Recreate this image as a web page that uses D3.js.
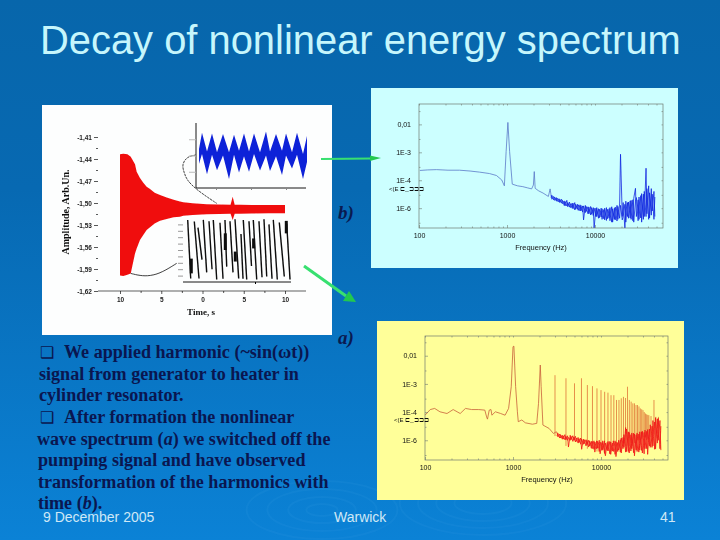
<!DOCTYPE html>
<html>
<head>
<meta charset="utf-8">
<script src="https://cdn.jsdelivr.net/npm/d3@7/dist/d3.min.js"></script>
<style>
  html, body { margin: 0; padding: 0; background: #0a70bc; }
  svg { display: block; }
  text { font-family: "Liberation Sans", Arial, sans-serif; }
  .serif { font-family: "Liberation Serif", "Times New Roman", serif; }
</style>
</head>
<body>
<svg id="slide" width="720" height="540"></svg>
<script>
const titleText = "Decay of nonlinear energy spectrum";
const footerTexts = ["9 December 2005", "Warwick", "41"];

// each line is a list of [text, italic] runs
const bodyLines = [
  [["We applied harmonic (~sin(ωt))", false]],
  [["signal from generator to heater in", false]],
  [["cylinder resonator.", false]],
  [["After formation the nonlinear", false]],
  [["wave spectrum (", false], ["a", true], [") we switched off the", false]],
  [["pumping signal and have observed", false]],
  [["transformation of the harmonics with", false]],
  [["time (", false], ["b", true], [").", false]]
];
const bulletLines = [0, 3];

// decay record (left panel)
const timeTicks = [-10, -5, 0, 5, 10];
const timeTickLabels = ["10", "5", "0", "5", "10"];
const timeMinorTicks = [-7.5, -2.5, 2.5, 7.5];
const ampTicks = [-1.41, -1.44, -1.47, -1.50, -1.53, -1.56, -1.59, -1.62];
const ampMinorTicks = [-1.425, -1.455, -1.485, -1.515, -1.545, -1.575, -1.605];

const envTime = [-10, -9.6, -9.1, -8.7, -8.18, -7.98, -7.58, -7.2, -6.77, -6.36, -5.8, -5.15, -4.34, -3.5, -2.73, -2.33, -1.2, 0.5, 2, 3.4, 3.66, 3.9, 4.55, 6, 8, 10];
const envUpper = [-1.4336, -1.433, -1.4336, -1.437, -1.447, -1.4573, -1.466, -1.472, -1.4778, -1.481, -1.486, -1.489, -1.4925, -1.4955, -1.498, -1.499, -1.5005, -1.5018, -1.5022, -1.5025, -1.4914, -1.5025, -1.5024, -1.5026, -1.5027, -1.5028];
const envLower = [-1.599, -1.5995, -1.598, -1.596, -1.5687, -1.562, -1.5505, -1.544, -1.5369, -1.533, -1.528, -1.5242, -1.5218, -1.5195, -1.5187, -1.5175, -1.5165, -1.5155, -1.515, -1.5148, -1.5232, -1.5146, -1.5145, -1.5142, -1.5141, -1.514];

const topLinkTime = [-0.82, -1.91, -2.52, -2.2, -1.91, -0.7, 1.72];
const topLinkAmp = [-1.4346, -1.4368, -1.4482, -1.459, -1.4687, -1.4823, -1.5005];
const lowLinkTime = [-8.7, -7.58, -6.36, -4.95, -3.13];
const lowLinkAmp = [-1.596, -1.5992, -1.5996, -1.5951, -1.5823];

// blue zoomed trace, arbitrary inset units
const blueTime = [3, 6, 11, 16, 21, 27, 33, 38, 43, 48, 53, 58, 64, 70, 74, 80, 86, 90, 96, 101, 107, 111];
const blueUpper = [0.2, 0.7, 0.12, 0.68, 0.1, 0.66, 0.1, 0.64, 0.15, 0.68, 0.12, 0.68, 0.1, 0.74, 0.12, 0.66, 0.15, 0.68, 0.1, 0.7, 0.05, 0.6];
const blueLower = [-0.25, 0.05, -0.58, 0.02, -0.45, 0, -0.72, 0.02, -0.52, -0.02, -0.5, 0.05, -0.46, 0, -0.48, -0.02, -0.6, 0, -0.4, 0.02, -0.72, -0.2];

// black zoomed trace: separate leaning strokes, then short heavy bursts
const strokeT1 = [4.7, 11.3, 15, 20.3, 26, 30.3, 37, 42, 47, 52, 58, 60.3, 66, 70.3, 76, 81, 86, 90.3, 96.3, 103.7];
const strokeV1 = [0.94, 0.89, 0.7, 0.94, 0.9, 0.94, 0.85, 0.94, 0.9, 0.96, 0.5, 0.94, 0.9, 0.94, 0.9, 0.96, 0.8, 0.94, 0.86, 0.83];
const strokeT2 = [7.7, 16, 19, 23.7, 29, 33.7, 40, 43.7, 50, 55.7, 60, 63.7, 68.5, 73.7, 79, 83.7, 89, 94.3, 101.3, 107];
const strokeV2 = [-0.89, -0.89, -0.3, -0.7, -0.6, -0.92, -0.9, -0.52, -0.7, -0.89, -0.9, -0.92, -0.5, -0.92, -0.85, -0.83, -0.9, -0.92, -0.83, -0.92];
const burstTime = [8.3, 42.3, 52.3, 70.6, 103.3];
const burstHigh = [-0.27, 0.52, -0.05, 0.36, 0.91];
const burstLow = [-0.73, 0, -0.36, 0.05, 0.52];

// spectra, both axes stored as powers of ten
const freqTicks = [100, 1000, 10000];
const freqMinorTicks = [200, 300, 400, 500, 600, 700, 800, 900, 2000, 3000, 4000, 5000, 6000, 7000, 8000, 9000, 20000, 30000, 40000, 50000];
const specTicks = [1e-2, 1e-3, 1e-4, 1e-5];
const specTickLabels = ["0,01", "1E-3", "1E-4", "1E-6"];
const specMinorTicks = [3e-2, 3e-3, 3e-4, 3e-5, 3e-6];

const lowFreqB = [2.01, 2.1, 2.2, 2.33, 2.46, 2.58, 2.69, 2.8, 2.88, 2.94, 2.97, 2.99, 3.01, 3.03, 3.06, 3.12, 3.18, 3.23, 3.28, 3.3, 3.31, 3.32, 3.36, 3.41, 3.47, 3.49, 3.50];
const lowAmpB = [-3.65, -3.63, -3.62, -3.64, -3.64, -3.67, -3.71, -3.76, -3.83, -3.99, -4.2, -2.98, -1.93, -2.98, -4.14, -4.2, -4.23, -4.27, -4.31, -4.17, -3.69, -4.29, -4.38, -4.46, -4.58, -4.31, -4.52];

const lowFreqA = [2.0, 2.06, 2.11, 2.17, 2.25, 2.32, 2.4, 2.46, 2.53, 2.61, 2.68, 2.7, 2.71, 2.73, 2.75, 2.76, 2.8, 2.86, 2.91, 2.95, 2.98, 3.0, 3.01, 3.03, 3.05, 3.06, 3.1, 3.14, 3.22, 3.27, 3.29, 3.31, 3.32, 3.34, 3.41, 3.46, 3.49, 3.50];
const lowAmpA = [-4.11, -3.91, -3.87, -3.99, -4.05, -3.91, -4.05, -3.87, -3.91, -3.91, -3.93, -4.17, -4.25, -3.93, -3.91, -4.11, -3.99, -4.05, -4.11, -3.87, -3.1, -1.68, -1.66, -3.1, -3.99, -4.34, -4.28, -4.38, -4.43, -4.4, -3.69, -2.33, -3.1, -4.46, -4.58, -4.76, -4.7, -4.72];

const noiseFreq = [
  3.50, 3.51, 3.53, 3.54, 3.56, 3.57, 3.59, 3.60, 3.62, 3.63,
  3.65, 3.66, 3.68, 3.69, 3.71, 3.72, 3.74, 3.75, 3.77, 3.78,
  3.80, 3.81, 3.83, 3.84, 3.86, 3.87, 3.89, 3.90, 3.92, 3.93,
  3.95, 3.96, 3.98, 3.99, 4.01, 4.02, 4.04, 4.05, 4.07, 4.08,
  4.10, 4.11, 4.13, 4.14, 4.16, 4.17, 4.19, 4.20, 4.22, 4.23,
  4.25, 4.26, 4.28, 4.29, 4.31, 4.32, 4.34, 4.35, 4.37, 4.38,
  4.40, 4.41, 4.43, 4.44, 4.46, 4.47, 4.49, 4.50, 4.52, 4.53,
  4.55, 4.56, 4.58, 4.59, 4.61, 4.62, 4.64, 4.65, 4.67, 4.68
];
const noiseAmpB = [
  -4.52, -4.68, -4.58, -4.72, -4.62, -4.76, -4.66, -4.8, -4.68, -4.84,
  -4.74, -4.92, -4.72, -4.95, -4.78, -4.98, -4.82, -5.02, -4.8, -5.04,
  -4.86, -5.08, -4.88, -5.1, -4.92, -5.42, -4.9, -5.12, -4.95, -5.2,
  -4.94, -5.22, -4.98, -5.71, -5.0, -5.3, -5.02, -5.34, -5.0, -5.4,
  -5.05, -5.42, -4.98, -5.38, -5.02, -5.45, -4.95, -5.5, -5.0, -5.42,
  -4.9, -5.4, -4.85, -3.07, -5.3, -4.8, -5.75, -4.75, -5.3, -4.78,
  -5.35, -4.72, -5.45, -4.65, -4.29, -5.3, -4.7, -5.4, -4.55, -5.5,
  -4.5, -5.3, -3.57, -5.2, -4.2, -5.35, -4.3, -5.1, -4.4, -5.3
];
const noiseAmpB2 = [
  -4.62, -4.54, -4.7, -4.6, -4.74, -4.64, -4.78, -4.68, -4.82, -4.72,
  -4.9, -4.76, -4.92, -4.8, -4.96, -4.84, -5.0, -4.82, -5.06, -4.86,
  -5.04, -4.88, -5.1, -4.9, -5.14, -4.92, -5.16, -4.94, -5.2, -4.96,
  -5.24, -4.98, -5.26, -5.0, -5.3, -4.98, -5.36, -5.04, -5.32, -5.02,
  -5.38, -5.0, -5.44, -5.04, -5.36, -4.98, -5.5, -5.02, -5.4, -4.96,
  -5.46, -4.94, -5.36, -4.9, -5.42, -5.3, -4.86, -5.5, -4.8, -5.36,
  -4.74, -5.4, -4.7, -5.5, -4.75, -4.62, -5.45, -4.6, -5.35, -4.48,
  -5.4, -4.4, -5.3, -4.3, -5.4, -4.45, -5.25, -4.5, -5.4, -4.6
];
const noiseAmpA = [
  -4.72, -4.88, -4.78, -4.92, -4.82, -4.96, -4.8, -4.98, -4.84, -5.24,
  -4.82, -4.98, -4.84, -5.0, -4.86, -5.04, -4.9, -5.08, -4.92, -5.32,
  -4.96, -5.12, -4.98, -5.16, -5.0, -5.2, -5.04, -5.3, -5.02, -5.42,
  -5.02, -5.28, -5.0, -5.48, -5.08, -5.34, -5.02, -5.55, -5.08, -5.38,
  -5.04, -5.5, -5.1, -5.4, -5.02, -5.58, -5.08, -5.35, -4.98, -5.45,
  -4.9, -5.25, -4.55, -5.4, -4.7, -5.45, -4.8, -5.3, -4.75, -5.55,
  -4.8, -5.4, -4.78, -5.35, -4.7, -5.45, -4.72, -5.3, -4.68, -5.5,
  -4.6, -5.25, -4.5, -5.2, -4.35, -5.3, -4.25, -5.0, -4.3, -5.35
];
const noiseAmpA2 = [
  -4.85, -4.75, -4.92, -4.8, -4.96, -4.84, -4.98, -4.86, -5.0, -4.9,
  -5.0, -4.86, -5.04, -4.88, -5.06, -4.92, -5.1, -4.94, -5.14, -4.96,
  -5.14, -4.98, -5.2, -5.0, -5.24, -5.02, -5.28, -5.04, -5.32, -5.06,
  -5.3, -5.04, -5.4, -5.06, -5.36, -5.02, -5.46, -5.1, -5.36, -5.04,
  -5.48, -5.06, -5.38, -5.02, -5.5, -5.06, -5.4, -5.0, -5.42, -4.92,
  -5.3, -4.8, -5.42, -4.6, -5.4, -4.72, -5.38, -4.74, -5.44, -4.78,
  -5.35, -4.74, -5.42, -4.7, -5.36, -4.68, -5.48, -4.64, -5.3, -4.62,
  -5.2, -4.45, -5.25, -4.3, -5.32, -4.2, -5.1, -4.22, -5.3, -4.5
];

const harmonicFreq = [3000, 4000, 5000, 6000, 7000, 8000, 9000, 10000, 11000, 12000, 13000, 14000, 15000, 16000, 17000, 18000, 19000, 20000, 21000, 22000, 23000, 24000, 25000, 26000, 27000, 28000, 29000, 30000, 31000, 32000, 33000, 34000, 35000, 37000, 40000, 42000, 45000];
const harmonicPeak = [-2.69, -2.8, -2.98, -2.8, -3.04, -3.08, -3.16, -3.22, -3.28, -3.31, -3.4, -3.4, -3.57, -3.57, -3.51, -3.46, -3.5, -3.1, -3.57, -3.63, -3.69, -3.69, -3.75, -3.75, -3.8, -3.87, -3.9, -3.93, -4.0, -4.05, -4.08, -4.1, -4.11, -4.14, -3.57, -4.17, -4.17];
const harmonicFloor = [-4.85, -5.2, -5.0, -5.05, -5.3, -5.2, -5.4, -5.3, -5.5, -5.3, -5.4, -5.2, -5.4, -5.2, -5.3, -5.1, -5.2, -5.0, -5.2, -5.1, -5.2, -5.1, -5.1, -5.0, -5.0, -5.0, -4.95, -4.9, -4.9, -4.9, -5.0, -4.95, -5.0, -4.9, -4.8, -4.9, -4.9];

const svg = d3.select("#slide");
const defs = svg.append("defs");

const bg = defs.append("linearGradient").attr("id", "bg").attr("x1", 0).attr("y1", 0).attr("x2", 0).attr("y2", 1);
bg.append("stop").attr("offset", "0%").attr("stop-color", "#0766ab");
bg.append("stop").attr("offset", "35%").attr("stop-color", "#0769b2");
bg.append("stop").attr("offset", "100%").attr("stop-color", "#0b82d6");

// the reference is a soft jpeg
defs.append("filter").attr("id", "soft").append("feGaussianBlur").attr("stdDeviation", 0.35);

svg.append("rect").attr("width", 720).attr("height", 540).attr("fill", "url(#bg)");

// ripples in the slide background
const ripples = svg.append("g").attr("fill", "none").attr("stroke", "#5fb4ec").attr("stroke-opacity", 0.07);
[[483, 503, [22, 36, 50, 64]], [322, 510, [12, 26, 42, 58]]].forEach(([cx, cy, radii]) => {
  radii.forEach((r) => {
    ripples.append("ellipse").attr("cx", cx).attr("cy", cy).attr("rx", r * 1.3).attr("ry", r * 0.5).attr("stroke-width", 2);
  });
});

svg.append("text")
  .attr("x", 40).attr("y", 54)
  .attr("font-size", 39.9)
  .attr("fill", "#c6f6fc")
  .text(titleText);

// left panel
svg.append("rect").attr("x", 42).attr("y", 105).attr("width", 290).attr("height", 230).attr("fill", "#fdfefe");

const decay = svg.append("g").attr("filter", "url(#soft)");
const x = d3.scaleLinear().domain([-10, 10]).range([120, 285]);
const y = d3.scaleLinear().domain([-1.41, -1.62]).range([137, 291]);

decay.append("path")
  .attr("d", d3.area().x((i) => x(envTime[i])).y0((i) => y(envLower[i])).y1((i) => y(envUpper[i]))(d3.range(envTime.length)))
  .attr("fill", "#f01010");

const linkLine = d3.line().x((d) => x(d[0])).y((d) => y(d[1])).curve(d3.curveBasis);
decay.append("path").attr("d", linkLine(d3.zip(topLinkTime, topLinkAmp)))
  .attr("fill", "none").attr("stroke", "#111").attr("stroke-width", 0.8).attr("stroke-dasharray", "2.5 0.8");
decay.append("path").attr("d", linkLine(d3.zip(lowLinkTime, lowLinkAmp)))
  .attr("fill", "none").attr("stroke", "#111").attr("stroke-width", 0.8);

const xAxisG = decay.append("g").attr("transform", "translate(0,291)")
  .call(d3.axisBottom(x).tickValues(timeTicks).tickSize(3).tickPadding(3).tickFormat((d, i) => timeTickLabels[i]));
xAxisG.select(".domain").attr("d", "M98,0H306");
decay.append("g").attr("transform", "translate(0,291)")
  .call(d3.axisBottom(x).tickValues(timeMinorTicks).tickSize(2).tickFormat(""))
  .select(".domain").remove();

const yAxisG = decay.append("g").attr("transform", "translate(98,0)")
  .call(d3.axisLeft(y).tickValues(ampTicks).tickSize(4).tickPadding(2).tickFormat((d) => "-" + d3.format(".2f")(-d).replace(".", ",")));
yAxisG.select(".domain").remove();
decay.append("g").attr("transform", "translate(98,0)")
  .call(d3.axisLeft(y).tickValues(ampMinorTicks).tickSize(2).tickFormat(""))
  .select(".domain").remove();
decay.selectAll("g.tick text").attr("font-size", 6.5).attr("font-family", "Liberation Sans").attr("font-weight", "bold").attr("fill", "#222");
decay.selectAll("g path.domain, g.tick line").attr("stroke", "#111").attr("stroke-width", 0.7);

decay.append("text").attr("class", "serif")
  .attr("transform", "translate(69,212) rotate(-90)")
  .attr("text-anchor", "middle").attr("font-size", 10).attr("font-weight", "bold").attr("fill", "#111")
  .text("Amplitude, Arb.Un.");
decay.append("text").attr("class", "serif")
  .attr("x", 201).attr("y", 315)
  .attr("text-anchor", "middle").attr("font-size", 9).attr("font-weight", "bold").attr("fill", "#111")
  .text("Time, s");

// blue inset
const bx = d3.scaleLinear().domain([0, 110]).range([196, 306]);
const by = d3.scaleLinear().domain([-1, 1]).range([188, 123]);
const blueG = svg.append("g").attr("filter", "url(#soft)");
blueG.append("path")
  .attr("d", d3.area().x((i) => bx(blueTime[i])).y0((i) => by(blueLower[i])).y1((i) => by(blueUpper[i]))(d3.range(blueTime.length)))
  .attr("fill", "#1020d8");
blueG.append("g").attr("transform", "translate(196,0)")
  .call(d3.axisLeft(by).tickValues([-0.5, 0, 0.5]).tickSize(7).tickFormat(""))
  .call((g) => g.selectAll(".tick line").attr("stroke", "#bbb"))
  .select(".domain").attr("d", "M0,123V188").attr("stroke", "#111");
blueG.append("g").attr("transform", "translate(0,188)")
  .call(d3.axisBottom(bx).tickValues([20, 55, 90]).tickSize(2).tickFormat(""))
  .call((g) => g.selectAll(".tick line").attr("stroke", "#888"))
  .select(".domain").attr("d", "M196,0H306").attr("stroke", "#111");

// black inset
const kx = d3.scaleLinear().domain([0, 108]).range([183, 291]);
const ky = d3.scaleLinear().domain([-1, 1]).range([282, 218]);
const blackG = svg.append("g").attr("filter", "url(#soft)");
blackG.selectAll("line.stroke").data(strokeT1).join("line")
  .attr("class", "stroke")
  .attr("x1", (d) => kx(d)).attr("y1", (d, i) => ky(strokeV1[i]))
  .attr("x2", (d, i) => kx(strokeT2[i])).attr("y2", (d, i) => ky(strokeV2[i]))
  .attr("stroke", "#0a0a0a").attr("stroke-width", 1.4);
blackG.selectAll("line.burst").data(burstTime).join("line")
  .attr("class", "burst")
  .attr("x1", (d) => kx(d)).attr("x2", (d) => kx(d))
  .attr("y1", (d, i) => ky(burstHigh[i])).attr("y2", (d, i) => ky(burstLow[i]))
  .attr("stroke", "#0a0a0a").attr("stroke-width", 3);
blackG.append("g").attr("transform", "translate(183,0)")
  .call(d3.axisLeft(ky).tickValues([-0.8, -0.6, -0.4, -0.2, 0, 0.2, 0.4, 0.6, 0.8]).tickSize(5).tickFormat(""))
  .call((g) => g.selectAll(".tick line").attr("stroke", "#999"))
  .select(".domain").remove();
blackG.append("g").attr("transform", "translate(0,282)")
  .call(d3.axisBottom(kx).tickValues([72]).tickSize(2).tickFormat(""))
  .select(".domain").attr("d", "M183,0H291").attr("stroke", "#111");

// spectrum panels
function drawSpectrum(cfg) {
  svg.append("rect")
    .attr("x", cfg.panel[0]).attr("y", cfg.panel[1])
    .attr("width", cfg.panel[2]).attr("height", cfg.panel[3])
    .attr("fill", cfg.fill);

  const g = svg.append("g").attr("filter", "url(#soft)");
  const { left, right, top, bottom } = cfg;
  const sx = d3.scaleLog().domain([100, 100 * Math.pow(10, (right - left) / 88)]).range([left, right]);
  const sy = d3.scaleLog().domain([cfg.yAtTop, cfg.yAtBottom]).range([top, bottom]);
  const clipId = "clip" + cfg.id;
  defs.append("clipPath").attr("id", clipId).append("rect")
    .attr("x", left).attr("y", top).attr("width", right - left).attr("height", bottom - top);

  const line = d3.line().x((d) => sx(Math.pow(10, d[0]))).y((d) => sy(Math.pow(10, d[1])));
  const plot = g.append("g").attr("clip-path", `url(#${clipId})`);

  if (cfg.spikes) {
    plot.selectAll("line.spike").data(cfg.spikes.freq).join("line")
      .attr("class", "spike")
      .attr("x1", (d) => sx(d)).attr("x2", (d) => sx(d))
      .attr("y1", (d, i) => sy(Math.pow(10, cfg.spikes.peak[i])))
      .attr("y2", (d, i) => sy(Math.pow(10, cfg.spikes.floor[i])))
      .attr("stroke", "#d8501c").attr("stroke-opacity", 0.8).attr("stroke-width", 0.8);
  }
  plot.append("path").attr("d", line(d3.zip(cfg.lowFreq, cfg.lowAmp)))
    .attr("fill", "none").attr("stroke", cfg.lowColor).attr("stroke-width", 0.8);
  cfg.noise.forEach((series) => {
    plot.append("path").attr("d", line(d3.zip(noiseFreq, series)))
      .attr("fill", "none").attr("stroke", cfg.color).attr("stroke-width", 0.8);
  });

  const axisColor = "#6f7a70";
  g.append("rect").attr("x", left).attr("y", top).attr("width", right - left).attr("height", bottom - top)
    .attr("fill", "none").attr("stroke", axisColor).attr("stroke-width", 0.7);

  const bottomAxis = g.append("g").attr("transform", `translate(0,${bottom})`)
    .call(d3.axisBottom(sx).tickValues(freqTicks).tickSize(-3).tickPadding(5).tickFormat((d) => d));
  const leftAxis = g.append("g").attr("transform", `translate(${left},0)`)
    .call(d3.axisLeft(sy).tickValues(specTicks).tickSize(-3).tickPadding(8).tickFormat((d, i) => specTickLabels[i]));
  const minorB = g.append("g").attr("transform", `translate(0,${bottom})`)
    .call(d3.axisBottom(sx).tickValues(freqMinorTicks).tickSize(-1.5).tickFormat(""));
  const minorT = g.append("g").attr("transform", `translate(0,${top})`)
    .call(d3.axisTop(sx).tickValues(freqMinorTicks.concat(freqTicks)).tickSize(-1.5).tickFormat(""));
  const minorL = g.append("g").attr("transform", `translate(${left},0)`)
    .call(d3.axisLeft(sy).tickValues(specMinorTicks).tickSize(-1.5).tickFormat(""));
  const minorR = g.append("g").attr("transform", `translate(${right},0)`)
    .call(d3.axisRight(sy).tickValues(specMinorTicks.concat(specTicks)).tickSize(-1.5).tickFormat(""));

  [bottomAxis, leftAxis, minorB, minorT, minorL, minorR].forEach((a) => {
    a.select(".domain").remove();
    a.selectAll(".tick line").attr("stroke", axisColor).attr("stroke-width", 0.6);
  });
  g.selectAll("g.tick text").attr("font-size", 7).attr("font-family", "Liberation Sans").attr("fill", "#111");

  g.append("text")
    .attr("x", cfg.labelX).attr("y", bottom + 22)
    .attr("text-anchor", "middle").attr("font-size", 7.5).attr("fill", "#111")
    .text("Frequency (Hz)");
  g.append("text")
    .attr("x", cfg.garbleX).attr("y", cfg.garbleY)
    .attr("font-size", 6).attr("fill", "#111")
    .attr("font-family", "DejaVu Sans")
    .text("<(E ⊏_⊐⊐⊐");
}

drawSpectrum({
  id: "b", panel: [371, 88, 307, 180], fill: "#ccffff",
  left: 419, right: 663, top: 104, bottom: 228,
  yAtTop: Math.pow(10, -1.27), yAtBottom: Math.pow(10, -5.71),
  lowFreq: lowFreqB, lowAmp: lowAmpB, noise: [noiseAmpB, noiseAmpB2],
  color: "#1026e0", lowColor: "#5a78c8",
  labelX: 541, garbleX: 389, garbleY: 190.5
});
drawSpectrum({
  id: "a", panel: [377, 321, 307, 179], fill: "#ffff99",
  left: 425, right: 668, top: 336, bottom: 460,
  yAtTop: Math.pow(10, -1.3), yAtBottom: Math.pow(10, -5.7),
  lowFreq: lowFreqA, lowAmp: lowAmpA, noise: [noiseAmpA, noiseAmpA2],
  color: "#f01414", lowColor: "#c8603a",
  spikes: { freq: harmonicFreq, peak: harmonicPeak, floor: harmonicFloor },
  labelX: 547, garbleX: 394, garbleY: 422
});

// green pointers between the panels
const pointers = svg.append("g").attr("filter", "url(#soft)");
pointers.append("path").attr("d", "M321,159L372,158.5").attr("stroke", "#38e070").attr("stroke-width", 1.8).attr("fill", "none");
pointers.append("path").attr("d", "M370,155.5L381,158L370,161Z").attr("fill", "#22c850");
pointers.append("path").attr("d", "M304,266L346,296").attr("stroke", "#38e070").attr("stroke-width", 3).attr("fill", "none");
pointers.append("path").attr("d", "M343,301L349,291L356,302Z").attr("fill", "#22c850");

// slide text
const labelStyle = (sel) => sel.attr("class", "serif").attr("font-size", 19).attr("font-weight", "bold").attr("font-style", "italic").attr("fill", "#0a1a50");
svg.append("text").attr("x", 338).attr("y", 219).call(labelStyle).text("b)");
svg.append("text").attr("x", 338).attr("y", 344).call(labelStyle).text("a)");

const lineX = [64, 39, 39, 64, 37, 38, 38, 38];
const lineY = [358, 380, 401, 423, 445, 466, 488, 509];
const body = svg.append("g").attr("fill", "#0a1650").attr("font-size", 18.1).attr("font-weight", "bold");
bodyLines.forEach((runs, i) => {
  const t = body.append("text").attr("class", "serif").attr("x", lineX[i]).attr("y", lineY[i]);
  runs.forEach(([str, italic]) => {
    t.append("tspan").attr("font-style", italic ? "italic" : "normal").text(str);
  });
});
bulletLines.forEach((i) => {
  body.append("text")
    .attr("x", 40).attr("y", lineY[i])
    .attr("font-family", "DejaVu Sans").attr("font-size", 16).attr("font-weight", "normal")
    .text("❑");
});

const footer = svg.append("g").attr("font-size", 14).attr("fill", "#cfe8f6");
footer.append("text").attr("x", 43).attr("y", 522).text(footerTexts[0]);
footer.append("text").attr("x", 334).attr("y", 522).text(footerTexts[1]);
footer.append("text").attr("x", 660).attr("y", 522).text(footerTexts[2]);
</script>
</body>
</html>
